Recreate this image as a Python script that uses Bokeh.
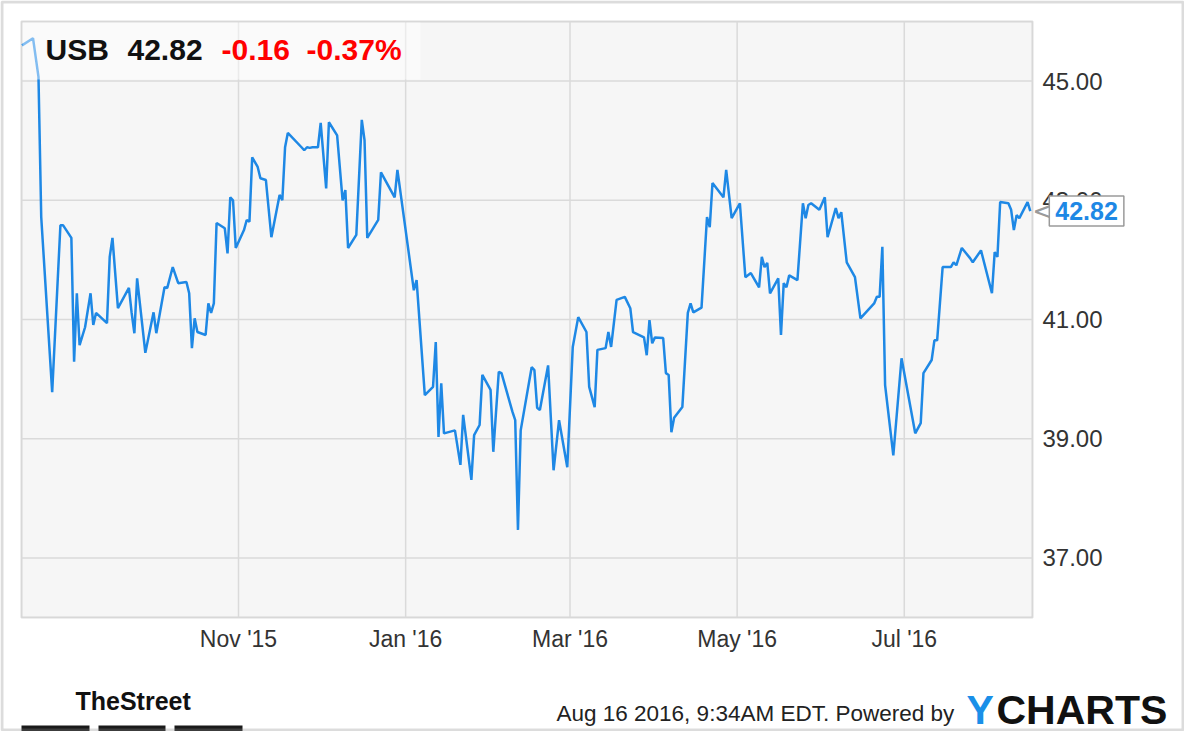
import pandas as pd
from bokeh.plotting import figure
from bokeh.models import Label, BoxAnnotation, FixedTicker, Range1d, DatetimeTickFormatter
from bokeh.embed import file_html
from bokeh.resources import INLINE

# ---------------- data ----------------
dates = [
    "2015-08-14", "2015-08-18", "2015-08-20", "2015-08-21", "2015-08-25", "2015-08-28", "2015-08-29",
    "2015-09-01", "2015-09-02", "2015-09-03", "2015-09-04", "2015-09-06", "2015-09-08", "2015-09-09",
    "2015-09-10", "2015-09-14", "2015-09-15", "2015-09-16", "2015-09-18", "2015-09-22", "2015-09-23",
    "2015-09-24", "2015-09-25", "2015-09-28",
    "2015-10-01", "2015-10-02", "2015-10-05", "2015-10-06", "2015-10-08", "2015-10-10", "2015-10-13",
    "2015-10-14", "2015-10-15", "2015-10-16", "2015-10-17", "2015-10-20", "2015-10-21", "2015-10-22",
    "2015-10-23", "2015-10-24", "2015-10-27", "2015-10-28", "2015-10-29", "2015-10-30", "2015-10-31",
    "2015-11-03", "2015-11-04", "2015-11-05", "2015-11-06", "2015-11-08", "2015-11-09", "2015-11-11",
    "2015-11-13", "2015-11-16", "2015-11-17", "2015-11-18", "2015-11-19", "2015-11-24", "2015-11-25",
    "2015-11-26", "2015-11-27", "2015-11-28", "2015-11-30",
    "2015-12-01", "2015-12-03", "2015-12-04", "2015-12-07", "2015-12-09", "2015-12-10", "2015-12-11",
    "2015-12-14", "2015-12-16", "2015-12-17", "2015-12-18", "2015-12-22", "2015-12-23", "2015-12-28",
    "2015-12-29",
    "2016-01-04", "2016-01-05", "2016-01-08", "2016-01-11", "2016-01-12", "2016-01-13", "2016-01-14",
    "2016-01-15", "2016-01-19", "2016-01-21", "2016-01-22", "2016-01-25", "2016-01-26", "2016-01-28",
    "2016-01-29",
    "2016-02-01", "2016-02-02", "2016-02-04", "2016-02-05", "2016-02-09", "2016-02-10", "2016-02-11",
    "2016-02-12", "2016-02-16", "2016-02-17", "2016-02-18", "2016-02-19", "2016-02-22", "2016-02-24",
    "2016-02-26", "2016-02-29",
    "2016-03-02", "2016-03-04", "2016-03-07", "2016-03-08", "2016-03-10", "2016-03-11", "2016-03-14",
    "2016-03-15", "2016-03-16", "2016-03-18", "2016-03-21", "2016-03-23", "2016-03-24", "2016-03-28",
    "2016-03-29", "2016-03-30", "2016-03-31",
    "2016-04-01", "2016-04-04", "2016-04-05", "2016-04-06", "2016-04-07", "2016-04-08", "2016-04-11",
    "2016-04-13", "2016-04-14", "2016-04-15", "2016-04-18", "2016-04-20", "2016-04-21", "2016-04-22",
    "2016-04-26", "2016-04-27", "2016-04-29",
    "2016-05-02", "2016-05-04", "2016-05-06", "2016-05-09", "2016-05-10", "2016-05-11", "2016-05-12",
    "2016-05-13", "2016-05-16", "2016-05-17", "2016-05-18", "2016-05-19", "2016-05-20", "2016-05-23",
    "2016-05-25", "2016-05-26", "2016-05-27", "2016-05-28", "2016-05-31",
    "2016-06-02", "2016-06-03", "2016-06-06", "2016-06-07", "2016-06-08", "2016-06-10", "2016-06-13",
    "2016-06-15", "2016-06-20", "2016-06-21", "2016-06-22", "2016-06-23", "2016-06-24", "2016-06-27",
    "2016-06-30",
    "2016-07-05", "2016-07-07", "2016-07-08", "2016-07-11", "2016-07-12", "2016-07-13", "2016-07-15",
    "2016-07-18", "2016-07-19", "2016-07-20", "2016-07-22", "2016-07-25", "2016-07-26", "2016-07-29",
    "2016-08-02", "2016-08-03", "2016-08-04", "2016-08-05", "2016-08-08", "2016-08-09", "2016-08-10",
    "2016-08-11", "2016-08-12", "2016-08-15", "2016-08-16",
]

prices = [
    45.60, 45.72, 45.07, 42.72, 39.78, 42.58, 42.58,
    42.37, 40.29, 41.44, 40.57, 40.87, 41.44, 40.91, 41.11, 40.94, 42.05, 42.37, 41.19, 41.53, 41.11,
    40.77, 41.69, 40.44,
    41.12, 40.77, 41.54, 41.53, 41.88, 41.61, 41.63, 41.44, 40.52, 41.02, 40.79, 40.74, 41.27, 41.11,
    41.27, 42.62, 42.53, 42.11, 43.05, 43.00, 42.20,
    42.50, 42.67, 42.64, 43.72, 43.56, 43.37, 43.34, 42.38, 43.09, 43.00, 43.89, 44.13, 43.89, 43.84,
    43.89, 43.88, 43.89, 43.89,
    44.30, 43.20, 44.31, 44.09, 43.00, 43.17, 42.20, 42.42, 44.35, 44.01, 42.37, 42.67, 43.47, 43.05,
    43.51,
    41.49, 41.66, 39.73, 39.87, 40.62, 39.03, 39.93, 39.09, 39.14, 38.56, 39.40, 38.31, 39.06, 39.23,
    40.07,
    39.82, 38.78, 40.12, 40.10, 39.45, 39.31, 37.47, 39.14, 40.20, 40.15, 39.52, 39.48, 40.23, 38.47,
    39.31, 38.52,
    40.54, 41.04, 40.79, 39.87, 39.53, 40.49, 40.52, 40.79, 40.54, 41.33, 41.38, 41.19, 40.79, 40.70,
    40.40, 40.99, 40.60,
    40.70, 40.69, 40.10, 40.07, 39.11, 39.35, 39.53, 41.11, 41.27, 41.12, 41.20, 42.72, 42.55, 43.29,
    43.05, 43.51, 42.70,
    42.95, 41.71, 41.78, 41.54, 42.05, 41.88, 41.95, 41.44, 41.69, 40.74, 41.61, 41.54, 41.74, 41.66,
    42.95, 42.70, 42.92, 42.95, 42.84,
    43.05, 42.38, 42.87, 42.70, 42.80, 41.96, 41.71, 41.02, 41.27, 41.38, 41.38, 42.22, 39.90, 38.72,
    40.35,
    39.09, 39.26, 40.10, 40.32, 40.65, 40.65, 41.88, 41.88, 41.96, 41.91, 42.20, 42.03, 41.96, 42.16,
    41.44, 42.13, 42.05, 42.97, 42.95, 42.84, 42.50, 42.75, 42.70, 42.97, 42.82,
]

x_tick_dates = ["2015-11-01", "2016-01-01", "2016-03-01", "2016-05-01", "2016-07-01"]
x_tick_labels = ["Nov '15", "Jan '16", "Mar '16", "May '16", "Jul '16"]
y_ticks = [37, 39, 41, 43, 45]
y_tick_labels = ["37.00", "39.00", "41.00", "43.00", "45.00"]

ticker_symbol = "USB"
last_price_text = "42.82"
change_text = "-0.16"
change_pct_text = "-0.37%"
last_price = 42.82
footer_text = "Aug 16 2016, 9:34AM EDT.  Powered by"

# ---------------- layout ----------------
FIG_W, FIG_H = 1184, 731
# chart box (in pixels of the canvas)
CL, CR, CT, CB = 21, 1032, 21, 617
y_lo, y_hi = 36, 46

x_dt = pd.to_datetime(dates)
x_start = pd.Timestamp("2015-11-01") - pd.Timedelta(days=79.2)
x_end = pd.Timestamp("2015-11-01") + pd.Timedelta(days=289.8)
X0 = x_start.value / 1e6
X1 = x_end.value / 1e6


def fx(px):
    return X0 + (px - CL) * (X1 - X0) / (CR - CL)


def fy(py):
    return y_hi - (py - CT) * (y_hi - y_lo) / (CB - CT)


p = figure(
    width=FIG_W, height=FIG_H,
    x_axis_type="datetime", y_axis_location="right",
    x_range=Range1d(fx(0), fx(FIG_W)), y_range=Range1d(fy(FIG_H), fy(0)),
    output_backend="svg", toolbar_location=None, tools="",
    min_border=0, min_border_left=0, min_border_right=0, min_border_top=0, min_border_bottom=0,
    background_fill_color="white", border_fill_color="white",
)
p.outline_line_color = None
p.grid.grid_line_color = None

# chart background and frame
p.add_layout(BoxAnnotation(left=X0, right=X1, bottom=y_lo, top=y_hi, level="underlay",
                           fill_color="#f6f6f6", fill_alpha=1,
                           line_color="#8c8c8c", line_width=2))

x_tick_ms = [pd.Timestamp(d).value // 10**6 for d in x_tick_dates]
p.xaxis.ticker = FixedTicker(ticks=x_tick_ms)
p.xaxis.formatter = DatetimeTickFormatter(days="%b '%y", months="%b '%y", years="%b '%y")
p.xaxis.major_label_overrides = {t: l for t, l in zip(x_tick_ms, x_tick_labels)}
p.xaxis.fixed_location = y_lo
p.yaxis.ticker = FixedTicker(ticks=y_ticks)
p.yaxis.major_label_overrides = {t: l for t, l in zip(y_ticks, y_tick_labels)}
p.yaxis.fixed_location = X1

for ax in (p.xaxis, p.yaxis):
    ax.axis_line_color = None
    ax.major_tick_line_color = None
    ax.minor_tick_line_color = None
    ax.major_tick_out = 0
    ax.major_tick_in = 0
    ax.minor_tick_out = 0
    ax.minor_tick_in = 0
    ax.major_label_text_font = "Liberation Sans"
    ax.major_label_text_color = "#333333"
p.xaxis.major_label_text_font_size = "23px"
p.yaxis.major_label_text_font_size = "24px"
p.xaxis.major_label_standoff = 8
p.yaxis.major_label_standoff = 10

# grid lines limited to the chart box, at the tick positions
x_tick_dt = pd.to_datetime(x_tick_dates)
p.segment(x0=x_tick_dt, y0=[y_lo] * len(x_tick_dt), x1=x_tick_dt, y1=[y_hi] * len(x_tick_dt),
          line_color="#dadada", line_width=1.5)
p.segment(x0=[X0] * len(y_ticks), y0=y_ticks, x1=[X1] * len(y_ticks), y1=y_ticks,
          line_color="#dadada", line_width=1.5)

p.line(x_dt, prices, line_color="#1e88e5", line_width=2.5)

# title band
p.add_layout(BoxAnnotation(left=fx(CL + 1), right=fx(420), bottom=fy(79), top=fy(CT + 1),
                           fill_color="white", fill_alpha=0.45, line_color=None))


def lab(text, px, py, size, color, style="bold", font="Liberation Sans", **kw):
    # px: left edge, py: vertical centre of the capitals (canvas pixels)
    p.add_layout(Label(x=X0, y=y_lo, x_offset=px - CL, y_offset=CB - py,
                       text=text, text_font=font, text_font_size=size,
                       text_color=color, text_font_style=style,
                       text_baseline="middle", text_align="left", **kw))


lab(ticker_symbol, 45, 49, "30px", "#111111")
lab(last_price_text, 127, 49, "30px", "#111111")
lab(change_text, 221, 49, "30px", "#ff0000")
lab(change_pct_text, 306, 49, "30px", "#ff0000")

# last-price callout
p.add_layout(Label(x=x_dt[-1], y=last_price, x_offset=2, y_offset=0,
                   text="<", text_font="DejaVu Sans", text_font_size="26px",
                   text_color="#9a9a9a", text_baseline="middle", text_align="left"))
p.add_layout(Label(x=x_dt[-1], y=last_price, x_offset=19, y_offset=0,
                   text=last_price_text, text_font="Liberation Sans", text_font_size="25px",
                   text_font_style="bold", text_color="#1e88e5", text_baseline="middle",
                   text_align="left", background_fill_color="white",
                   border_line_color="#9a9a9a", border_line_width=1.5, padding=6))

# footer
lab("TheStreet", 75, 700, "25px", "#111111")
for l, r in [(21, 89), (98, 165), (174, 242)]:
    p.add_layout(BoxAnnotation(left=fx(l), right=fx(r), bottom=fy(732), top=fy(725),
                               fill_color="#1a1a1a", fill_alpha=1, line_color=None))
lab(footer_text, 556, 713, "22.5px", "#222222", style="normal")
lab("Y", 966, 709, "41px", "#1a8fe8")
lab("CHARTS", 996, 709, "41px", "#111111")

# outer border
p.add_layout(BoxAnnotation(left=fx(1.5), right=fx(FIG_W - 1.5), bottom=fy(FIG_H - 1.5), top=fy(1.5),
                           fill_color=None, line_color="#8c8c8c", line_width=3))

open("out.html", "w").write(file_html(p, INLINE))
